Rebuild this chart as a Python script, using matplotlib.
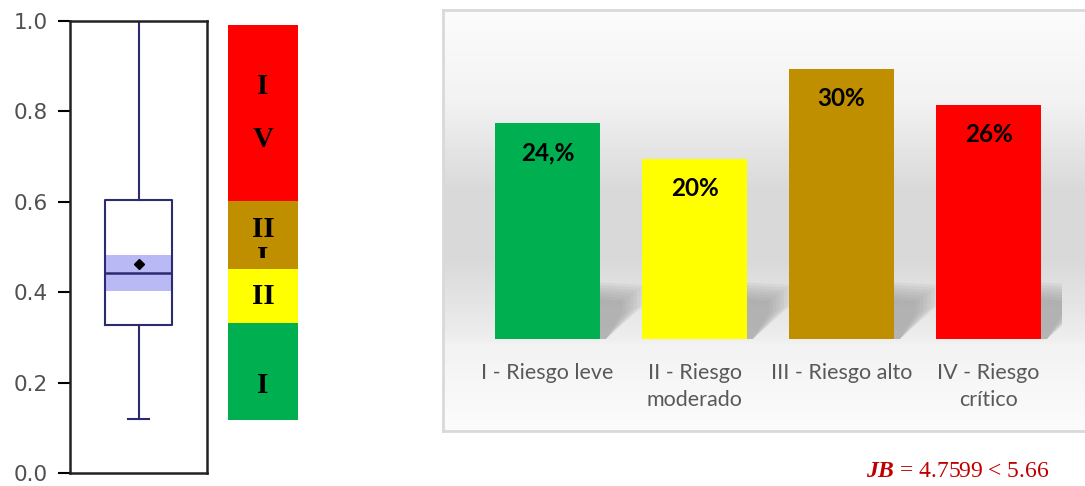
import numpy as np
import matplotlib.pyplot as plt
from matplotlib.patches import Polygon, Rectangle

# --- datos del diagrama de caja ---
box_q1 = 0.327
box_med = 0.442
box_q3 = 0.604
box_mean = 0.462
box_ci = [0.403, 0.482]
box_whis = [0.119, 1.0]

# --- franjas de riesgo junto a la caja ---
band_edges = [0.117, 0.332, 0.451, 0.602, 0.991]
band_colors = ['#00b050', '#ffff00', '#bf8f00', '#ff0000']
band_labels = ['I', 'II', 'II\nI', 'I\nV']

# --- gráfico de barras ---
categorias = ['I - Riesgo leve', 'II - Riesgo\nmoderado', 'III - Riesgo alto', 'IV - Riesgo\ncrítico']
porcentajes = [24, 20, 30, 26]
etiquetas = ['24,%', '20%', '30%', '26%']
colores = ['#00b050', '#ffff00', '#bf8f00', '#ff0000']

plt.rcParams['mathtext.fontset'] = 'custom'
plt.rcParams['mathtext.rm'] = 'Liberation Serif'
plt.rcParams['mathtext.bfit'] = 'Liberation Serif:italic:bold'

fig = plt.figure(figsize=(10.85, 4.86), dpi=100)

# ---------------- diagrama de caja ----------------
ax1 = fig.add_axes([70 / 1085, 1 - 473 / 486, 137 / 1085, 452 / 486])
navy = '#2b2b72'
stats = [dict(med=box_med, q1=box_q1, q3=box_q3, whislo=box_whis[0],
              whishi=box_whis[1], mean=box_mean, fliers=[])]
ax1.fill_between([1 - 0.245, 1 + 0.245], box_ci[0], box_ci[1],
                 color='#b9b9f5', lw=0, zorder=1)
ax1.bxp(stats, positions=[1], widths=0.49, showmeans=True, capwidths=0.16,
        boxprops=dict(color=navy, lw=1.5), whiskerprops=dict(color=navy, lw=1.5),
        capprops=dict(color=navy, lw=1.5), medianprops=dict(color=navy, lw=1.8),
        meanprops=dict(marker='D', markersize=5, markerfacecolor='black',
                       markeredgecolor='black'), zorder=2)
ax1.set_xlim(0.5, 1.5)
ax1.set_ylim(0, 1)
ax1.set_xticks([])
ax1.set_yticks(np.arange(0, 1.01, 0.2))
ax1.set_yticklabels([f'{v:.1f}' for v in np.arange(0, 1.01, 0.2)])
ax1.tick_params(axis='y', length=9, width=1.5, pad=7, labelsize=15.5, labelcolor='#505050')
for s in ax1.spines.values():
    s.set_linewidth(1.8)
    s.set_color('#222222')

# ---------------- franjas de colores ----------------
ax2 = fig.add_axes([228 / 1085, 1 - 473 / 486, 70 / 1085, 452 / 486])
ax2.set_xlim(-0.5, 0.5)
ax2.set_ylim(0, 1)
ax2.axis('off')
fuente = dict(fontsize=21, fontweight='bold', family='Liberation Serif',
              ha='center', va='center')
for i in range(len(band_colors)):
    lo, hi = band_edges[i], band_edges[i + 1]
    ax2.bar(0, hi - lo, bottom=lo, width=1, color=band_colors[i], lw=0)
    mid = (lo + hi) / 2
    if i == 2:
        t = ax2.text(0, mid - 0.02, band_labels[i], linespacing=1.1, **fuente)
        clip = Rectangle((-0.5, 0.476), 1, hi - 0.476, transform=ax2.transData)
        t.set_clip_on(True)
        t.set_clip_path(clip)
    elif i == 3:
        ax2.text(0, mid, band_labels[i], linespacing=2.2, **fuente)
    else:
        off = -0.03 if i == 0 else 0
        ax2.text(0, mid + off, band_labels[i], **fuente)

# ---------------- fondo del gráfico de barras ----------------
bg = fig.add_axes([443 / 1085, 1 - 431 / 486, 642 / 1085, 421 / 486])
py = np.array([10, 100, 190, 260, 300, 339, 346, 431])
gv = np.array([0.985, 0.95, 0.85, 0.85, 0.89, 0.93, 0.95, 0.985])
grad = np.interp(np.arange(10, 432), py, gv)
bg.imshow(np.repeat(grad[:, None], 2, axis=1), cmap='gray', vmin=0, vmax=1,
          aspect='auto', extent=[0, 1, 0, 1], origin='upper')
bg.set_xticks([])
bg.set_yticks([])
for s in bg.spines.values():
    s.set_color('#d9d9d9')
    s.set_linewidth(2)
bg.spines['right'].set_visible(False)

# ---------------- barras ----------------
ax3 = fig.add_axes([474 / 1085, 1 - 339 / 486, 588 / 1085, 297 / 486])
ax3.patch.set_alpha(0)
x = np.arange(len(categorias))
barras = ax3.bar(x, porcentajes, width=0.714, color=colores, zorder=3)

# sombra suave detrás de cada barra
for b in barras:
    r = b.get_x() + b.get_width()
    for k in range(7):
        poly = Polygon([(r - 0.01, 0), (r - 0.01, 6.3 - k * 0.3),
                        (r + 0.30 - k * 0.025, 6.0 - k * 0.3),
                        (r + 0.30 - k * 0.025, 3.8 - k * 0.15),
                        (r + 0.04, 0)],
                       closed=True, facecolor='#8c8c8c', edgecolor='none',
                       alpha=0.11, zorder=2)
        ax3.add_patch(poly)

for b, lab in zip(barras, etiquetas):
    ax3.text(b.get_x() + b.get_width() / 2, b.get_height() - 3.3, lab,
             ha='center', va='center', fontsize=17.5, fontweight='bold',
             family='Lato', color='black', zorder=4)

ax3.set_xlim(-0.5, len(categorias) - 0.5)
ax3.set_ylim(0, 33)
ax3.set_yticks([])
ax3.set_xticks(x)
ax3.set_xticklabels(categorias, fontsize=15.5, family='Lato', color='#595959',
                    linespacing=1.45, va='top')
ax3.tick_params(axis='x', length=0, pad=17)
for s in ax3.spines.values():
    s.set_visible(False)

# ---------------- estadístico JB ----------------
fig.text(866 / 1085, 1 - 477 / 486, r'$\mathbfit{JB}$ = 4.7599 < 5.66',
         fontsize=17, family='Liberation Serif', color='#c00000',
         ha='left', va='baseline')

fig.savefig('out.png', dpi=100)
